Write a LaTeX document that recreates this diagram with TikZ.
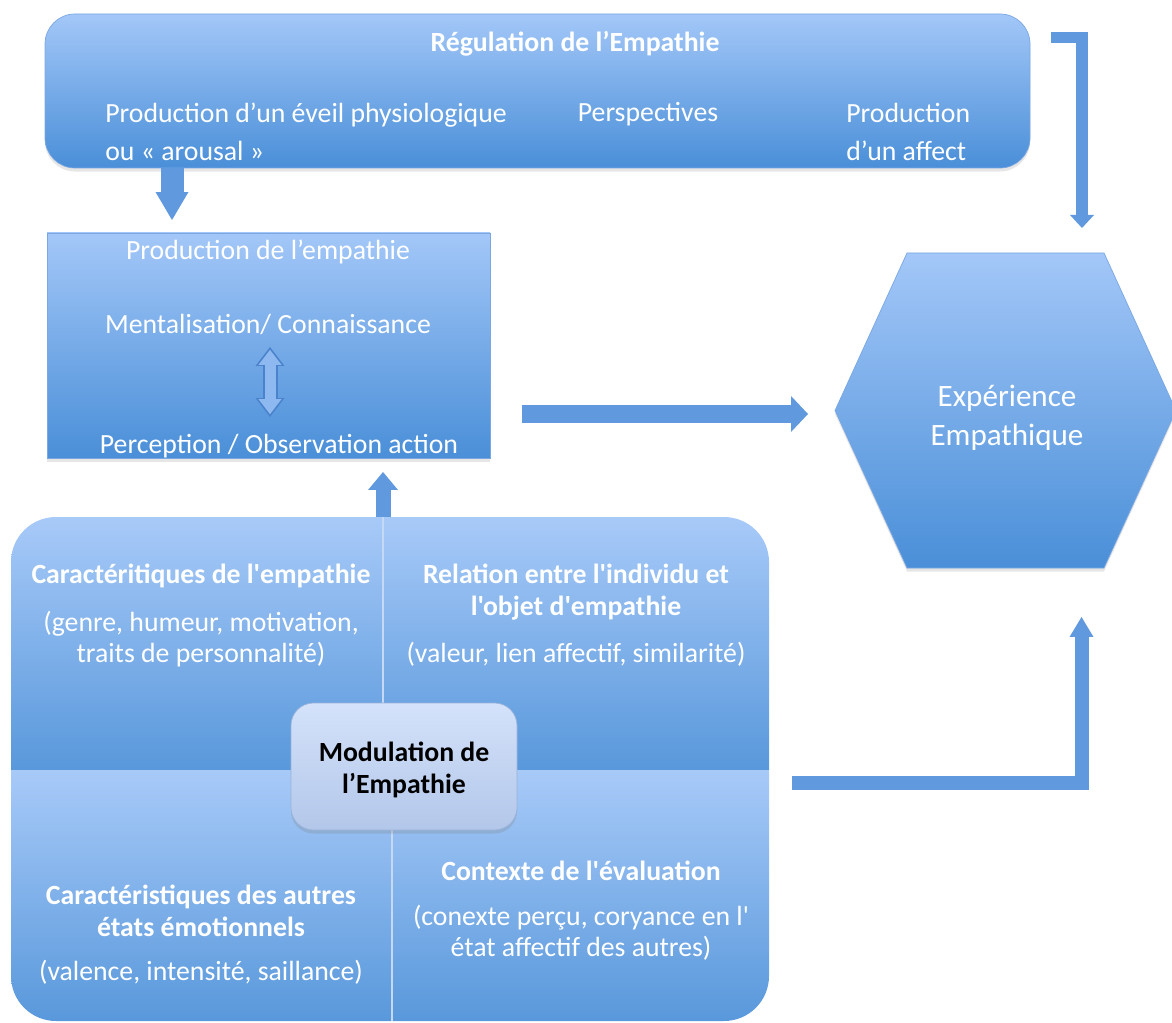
\documentclass[tikz,border=0pt]{standalone}
\usepackage{fontspec}
\setmainfont{Carlito}[Ligatures=TeXOff]
\usetikzlibrary{arrows.meta,positioning,fit,shadows}
\definecolor{boxtop}{HTML}{A3C7F8}
\definecolor{boxbottom}{HTML}{4A8FD8}
\definecolor{boxline}{HTML}{7AA7E2}
\definecolor{arrowblue}{HTML}{6199DE}
\definecolor{arrowlight}{HTML}{8DB9F0}
\definecolor{arrowdark}{HTML}{4A82CC}
\definecolor{modtop}{HTML}{D4E2FA}
\definecolor{modbottom}{HTML}{B3C7EA}
\definecolor{modline}{HTML}{9AB3DB}
\definecolor{splitline}{HTML}{C6D9F4}
\tikzset{blue box/.style={draw=boxline,line width=0.4pt,top color=boxtop,bottom color=boxbottom,inner sep=0pt,
    drop shadow={opacity=0.2,shadow xshift=0pt,shadow yshift=-2pt}},
  blue quad/.style={top color=boxtop!95!white,bottom color=boxbottom!92!white},
  split line/.style={draw=splitline,line width=0.6pt},
  top text/.style={text=white,inner sep=0pt,font=\fontsize{15.8}{21.5}\selectfont},
  title text/.style={top text,font=\bfseries\fontsize{15.8}{21.5}\selectfont},
  quad text/.style={text=white,inner sep=0pt,align=center,font=\fontsize{15.8}{17.6}\selectfont},
  quad title/.style={quad text,font=\bfseries\fontsize{15.8}{18}\selectfont},
  hex text/.style={text=white,inner sep=0pt,align=center,font=\fontsize{17.7}{22}\selectfont},
  mod box/.style={draw=modline,line width=0.4pt,top color=modtop,bottom color=modbottom,rounded corners=0.45cm,
    inner sep=0pt,drop shadow={opacity=0.25,shadow xshift=0pt,shadow yshift=-2pt}},
  mod text/.style={inner sep=0pt,align=center,text=black,font=\bfseries\fontsize{15.8}{18}\selectfont},
  block arrow/.style={draw=arrowblue,line cap=butt,line join=miter},
}
\begin{document}
\begin{tikzpicture}[x=0.02cm,y=-0.02cm]
\useasboundingbox (0,0) rectangle (1172,1023);

% regulation
\node[blue box,rounded corners=0.6cm,fit={(45,14) (1030,168)}] (reg) {};
\node[title text] (regtitle) at (575,44) {Régulation de l’Empathie};
\node[top text,anchor=west,align=left] (eveil) at (105,132) {Production d’un éveil physiologique\\ou « arousal »};
\node[top text] (persp) at (648,114) {Perspectives};
\node[top text,anchor=west,align=left] (affect) at (846,132) {Production\\d’un affect};

% production
\node[blue box,fit={(47,233) (490,458)}] (prod) {};
\node[top text] (prodtitle) at (268,252) {Production de l’empathie};
\node[top text] (ment) at (268,324) {Mentalisation/ Connaissance};
\node[top text] (perc) at (279,446) {Perception / Observation action};

% experience
\path[blue box] (907,253) -- (1104,253) -- (1176,410.5) -- (1104,568) -- (907,568) -- (835,410.5) -- cycle;
\node[hex text] (exp) at (1007,418) {Expérience\\Empathique};

% modulation
\path[blue quad,rounded corners=0.9cm] (11,770) -- (11,517) -- (769,517) -- (769,770);
\path[blue quad,rounded corners=0.9cm] (11,770) -- (11,1021) -- (769,1021) -- (769,770);
\draw[split line] (383,517) -- (383,770);
\draw[split line] (392,770) -- (392,1021);

\node[quad title] (cartitle) at (201,576) {Caractéritiques de l'empathie};
\node[quad text] (cardesc) at (201,639) {(genre, humeur, motivation,\\traits de personnalité)};
\node[quad title] (reltitle) at (576,592) {Relation entre l'individu et\\l'objet d'empathie};
\node[quad text] (reldesc) at (576,654) {(valeur, lien affectif, similarité)};
\node[quad title] (etattitle) at (201,911) {Caractéristiques des autres\\états émotionnels};
\node[quad text] (etatdesc) at (201,972) {(valence, intensité, saillance)};
\node[quad title] (ctxtitle) at (581,871) {Contexte de l'évaluation};
\node[quad text] (ctxdesc) at (581,933) {(conexte perçu, coryance en l'\\état affectif des autres)};

\node[mod box,fit={(291,703) (517,830)}] (mod) {};
\node[mod text] (modtext) at (404,770) {Modulation de\\l’Empathie};

% arrows
\coordinate (prodin) at (172,220);
\coordinate (mentend) at (270,347);
\coordinate (percend) at (270,417);
\coordinate (quadtop) at (383,517);
\coordinate (prodbelow) at (383,472);
\coordinate (prodout) at (522,414);
\coordinate (expin) at (808,414);
\coordinate (regright) at (1051,37.5);
\coordinate (expnorth) at (1082,228);
\coordinate (modright) at (792,782.5);
\coordinate (expsouth) at (1081.5,617);

\draw[block arrow,line width=0.46cm,-{Triangle[width=0.66cm,length=0.56cm,line width=0pt]}] (reg.south -| prodin) -- (prodin);
\draw[block arrow,draw=arrowdark,line width=0.3cm,{Triangle[width=0.58cm,length=0.38cm,line width=0pt]}-{Triangle[width=0.58cm,length=0.38cm,line width=0pt]}] (mentend) -- (percend);
\draw[block arrow,draw=arrowlight,line width=0.22cm,shorten <=1.6pt,shorten >=1.6pt,{Triangle[width=0.46cm,length=0.3cm,line width=0pt]}-{Triangle[width=0.46cm,length=0.3cm,line width=0pt]}] (mentend) -- (percend);
\draw[block arrow,line width=0.3cm,-{Triangle[width=0.6cm,length=0.36cm,line width=0pt]}] (quadtop) -- (prodbelow);
\draw[block arrow,line width=0.36cm,-{Triangle[width=0.72cm,length=0.34cm,line width=0pt]}] (prodout) -- (expin);
\draw[block arrow,line width=0.23cm,-{Triangle[width=0.48cm,length=0.26cm,line width=0pt]}] (regright) -| (expnorth);
\draw[block arrow,line width=0.28cm,-{Triangle[width=0.48cm,length=0.4cm,line width=0pt]}] (modright) -| (expsouth);
\end{tikzpicture}
\end{document}
